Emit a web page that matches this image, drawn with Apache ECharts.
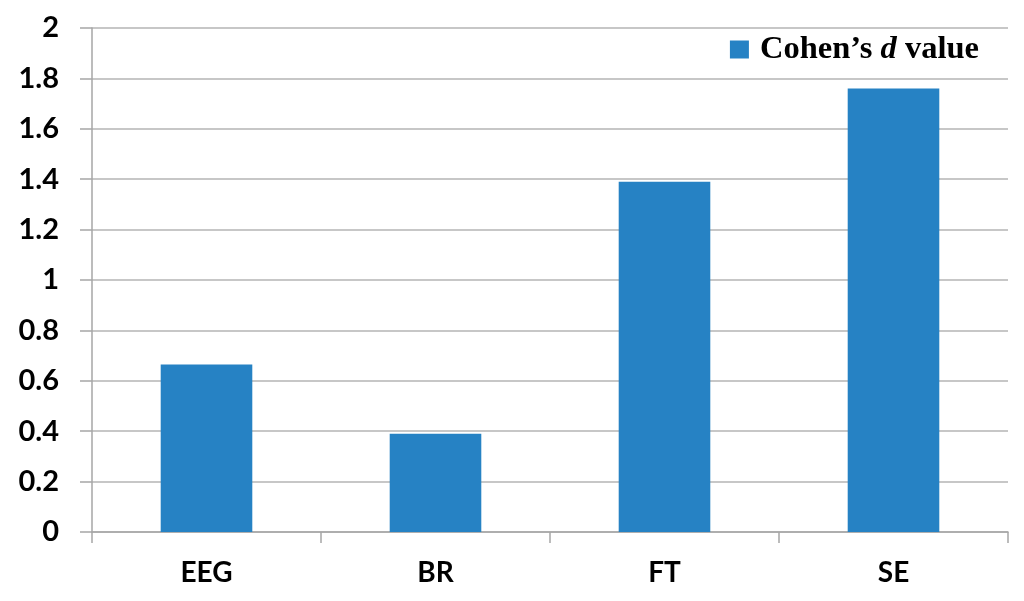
<!DOCTYPE html>
<html><head><meta charset="utf-8">
<script src="https://cdn.jsdelivr.net/npm/echarts@6/dist/echarts.min.js"></script>
<style>html,body{margin:0;padding:0;background:#fff}#c{width:1024px;height:601px}</style>
</head><body><div id="c"></div>
<script>
var categories = ['EEG', 'BR', 'FT', 'SE'];
var cohensD = [0.665, 0.39, 1.39, 1.76];
var seriesName = 'Cohen’s d value';

var chart = echarts.init(document.getElementById('c'));
chart.setOption({
  animation: false,
  backgroundColor: '#fff',
  grid: {left: 92, right: 16, top: 28, bottom: 69},
  legend: {
    right: 40, top: 28,
    icon: 'rect',
    itemWidth: 19, itemHeight: 18, itemGap: 10,
    data: [seriesName],
    formatter: function () { return '{s|}Cohen’s {i|d} value'; },
    textStyle: {
      fontFamily: 'Liberation Serif', fontWeight: 'bold', fontSize: 32.5, color: '#000',
      rich: {
        s: {width: 6},
        i: {fontFamily: 'Liberation Serif', fontWeight: 'bold', fontStyle: 'italic', fontSize: 32.5, color: '#000'}
      }
    }
  },
  xAxis: {
    type: 'category',
    data: categories,
    axisLine: {lineStyle: {color: '#a6a6a6', width: 1.5}},
    axisTick: {show: true, length: 11, lineStyle: {color: '#a6a6a6', width: 1.5}},
    axisLabel: {margin: 27, fontFamily: 'Lato', fontWeight: 'bold', fontSize: 28, color: '#000'}
  },
  yAxis: {
    type: 'value', min: 0, max: 2, interval: 0.2,
    axisLine: {show: true, lineStyle: {color: '#a6a6a6', width: 1.5}},
    axisTick: {show: true, length: 12, lineStyle: {color: '#a6a6a6', width: 1.5}},
    splitLine: {lineStyle: {color: '#b4b4b4', width: 1.5}},
    axisLabel: {margin: 33, fontFamily: 'Lato', fontWeight: 'bold', fontSize: 29, color: '#000',
      formatter: function (v) { return String(Math.round(v * 10) / 10); }}
  },
  series: [{
    name: seriesName,
    type: 'bar',
    data: cohensD,
    barCategoryGap: '60%',
    itemStyle: {color: '#2682c4'}
  }]
});
</script></body></html>
